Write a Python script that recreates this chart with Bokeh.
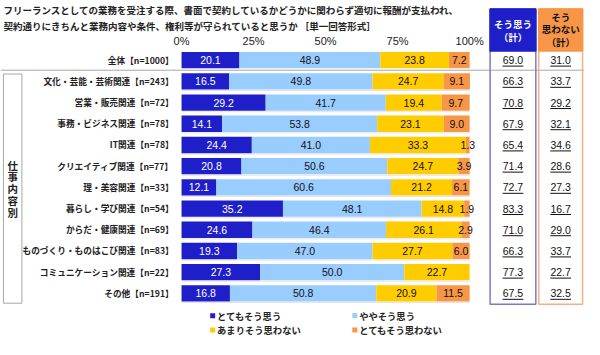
import numpy as np
from bokeh.plotting import figure
from bokeh.models import Range1d
from bokeh.core.properties import value
from bokeh.embed import file_html
from bokeh.resources import INLINE

# ---------------- data ----------------
title_lines = [
    "フリーランスとしての業務を受注する際、書面で契約しているかどうかに関わらず適切に報酬が支払われ、",
    "契約通りにきちんと業務内容や条件、権利等が守られていると思うか ［単一回答形式］",
]
categories = [
    "全体【n=1000】",
    "文化・芸能・芸術関連【n=243】",
    "営業・販売関連【n=72】",
    "事務・ビジネス関連【n=78】",
    "IT関連【n=78】",
    "クリエイティブ関連【n=77】",
    "理・美容関連【n=33】",
    "暮らし・学び関連【n=54】",
    "からだ・健康関連【n=69】",
    "ものづくり・ものはこび関連【n=83】",
    "コミュニケーション関連【n=22】",
    "その他【n=191】",
]
very_agree = [20.1, 16.5, 29.2, 14.1, 24.4, 20.8, 12.1, 35.2, 24.6, 19.3, 27.3, 16.8]
somewhat_agree = [48.9, 49.8, 41.7, 53.8, 41.0, 50.6, 60.6, 48.1, 46.4, 47.0, 50.0, 50.8]
somewhat_disagree = [23.8, 24.7, 19.4, 23.1, 33.3, 24.7, 21.2, 14.8, 26.1, 27.7, 22.7, 20.9]
strongly_disagree = [7.2, 9.1, 9.7, 9.0, 1.3, 3.9, 6.1, 1.9, 2.9, 6.0, 0.0, 11.5]
agree_total = [69.0, 66.3, 70.8, 67.9, 65.4, 71.4, 72.7, 83.3, 71.0, 66.3, 77.3, 67.5]
disagree_total = [31.0, 33.7, 29.2, 32.1, 34.6, 28.6, 27.3, 16.7, 29.0, 33.7, 22.7, 32.5]
series_names = ["とてもそう思う", "ややそう思う", "あまりそう思わない", "とてもそう思わない"]
colors = ["#1f1fc9", "#99ccff", "#ffcc00", "#f79646"]
ticks = [0, 25, 50, 75, 100]
tick_labels = ["0%", "25%", "50%", "75%", "100%"]
group_label = "仕事内容別"
agree_header = ["そう思う", "（計）"]
disagree_header = ["そう", "思わない", "（計）"]

# ---------------- layout helpers ----------------
PX, X0, RY, Y0 = 2.96, 186.0, 22.2, 62.5
def X(px): return (px - X0) / PX
def Y(py): return (py - Y0) / RY

JP = value("Noto Sans CJK JP")
NUM = value("Liberation Sans")
def fs(s): return value(s)

p = figure(width=584, height=339, x_range=Range1d(X(0), X(600)), y_range=Range1d(Y(355), Y(0)),
           output_backend="svg", toolbar_location=None, min_border=0,
           x_axis_type=None, y_axis_type=None)
p.grid.visible = False
p.outline_line_color = None
p.background_fill_color = "white"

n = len(categories)
rows = np.arange(n, dtype=float)

# title
p.text(x=[X(3)] * 2, y=[Y(10), Y(27)], text=title_lines, text_font=JP, text_font_style="bold",
       text_font_size=fs("9.5px"), text_color="#222222", text_align="left", text_baseline="middle")

# tick labels
p.text(x=ticks, y=[Y(42)] * len(ticks), text=tick_labels, text_font=NUM, text_font_size=fs("11px"),
       text_color="#222222", text_align="center", text_baseline="middle")

# separator line below 全体
p.segment(x0=[X(0)], y0=[Y(73)], x1=[X(600)], y1=[Y(73)], line_color="#a6a6a6", line_width=1)

# faint shadow line under bars
p.segment(x0=[0] * (n - 1), y0=rows[1:] + 0.43, x1=[100] * (n - 1), y1=rows[1:] + 0.43,
          line_color="#e4e4e4", line_width=1)

# stacked bars
vals = np.array([very_agree, somewhat_agree, somewhat_disagree, strongly_disagree])
lefts = np.cumsum(vals, axis=0) - vals
for k in range(4):
    p.hbar(y=rows, left=lefts[k], right=lefts[k] + vals[k], height=0.77,
           fill_color=colors[k], line_color=None)
for k in range(4):
    mask = vals[k] > 0
    mids = (lefts[k] + vals[k] / 2)[mask]
    p.text(x=mids, y=rows[mask], text=["%.1f" % v for v in vals[k][mask]], text_font=NUM,
           text_font_size=fs("10.5px"), text_color="white" if k == 0 else "#111111",
           text_align="center", text_baseline="middle")

# row labels
p.text(x=[X(178)] * n, y=rows, text=categories, text_font=JP, text_font_style="bold",
       text_font_size=fs("8.7px"), text_color="#222222", text_align="right", text_baseline="middle")

# category group box
p.quad(left=[X(3)], right=[X(22)], top=[Y(77)], bottom=[Y(317)], fill_alpha=0,
       line_color="#a6a6a6", line_width=1)
gch = list(group_label)
gy = [Y(197 + (i - 2) * 12.3) for i in range(len(gch))]
p.text(x=[X(12.5)] * len(gch), y=gy, text=gch, text_font=JP, text_font_style="bold",
       text_font_size=fs("10.5px"), text_color="#222222", text_align="center", text_baseline="middle")

# total columns boxes
p.quad(left=[X(503)], right=[X(550)], top=[Y(9)], bottom=[Y(318)], fill_alpha=0,
       line_color="#7b7bc8", line_width=1.5)
p.quad(left=[X(503)], right=[X(550)], top=[Y(9)], bottom=[Y(53)], fill_color="#1f1fc9",
       line_color="#1f1fc9", line_width=1.5)
p.quad(left=[X(553)], right=[X(598)], top=[Y(9)], bottom=[Y(318)], fill_alpha=0,
       line_color="#f4b183", line_width=1.5)
p.quad(left=[X(553)], right=[X(598)], top=[Y(9)], bottom=[Y(53)], fill_color="#f79646",
       line_color="#f79646", line_width=1.5)
p.text(x=[X(526.5)] * 2, y=[Y(25), Y(38)], text=agree_header, text_font=JP, text_font_style="bold",
       text_font_size=fs("9.5px"), text_color="white", text_align="center", text_baseline="middle")
p.text(x=[X(575.5)] * 3, y=[Y(17), Y(30), Y(43)], text=disagree_header, text_font=JP,
       text_font_style="bold", text_font_size=fs("9.5px"), text_color="#111111",
       text_align="center", text_baseline="middle")

# total values with underline
for cx, vals_t in ((X(526.5), agree_total), (X(575.5), disagree_total)):
    p.text(x=[cx] * n, y=rows, text=["%.1f" % v for v in vals_t], text_font=NUM,
           text_font_size=fs("10.5px"), text_color="#111111", text_align="center", text_baseline="middle")
    p.segment(x0=[cx - 3.6] * n, y0=rows + 0.28, x1=[cx + 3.6] * n, y1=rows + 0.28,
              line_color="#111111", line_width=1)

# legend
lx = [X(218), X(364), X(218), X(364)]
ly = [Y(330), Y(330), Y(345), Y(345)]
p.scatter(x=lx, y=ly, marker="square", size=5, fill_color=colors, line_color=None)
p.text(x=[v + 4.5 / PX for v in lx], y=ly, text=series_names, text_font=JP, text_font_style="bold",
       text_font_size=fs("9.3px"), text_color="#222222", text_align="left", text_baseline="middle")

open("out.html", "w").write(file_html(p, INLINE))
